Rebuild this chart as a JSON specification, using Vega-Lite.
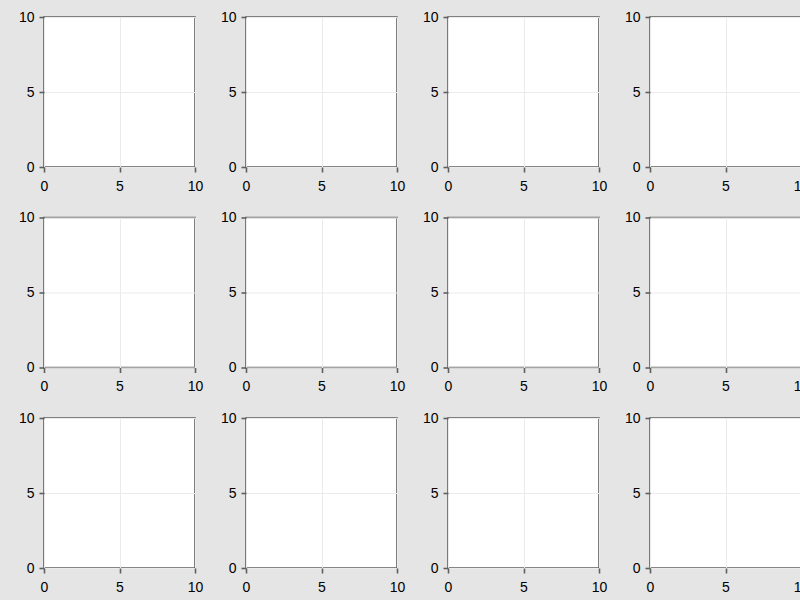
{
  "$schema": "https://vega.github.io/schema/vega-lite/v6.json",
  "background": "#e5e5e5",
  "padding": {"left": 17, "top": 9, "right": 0, "bottom": 20},
  "data": {"values": [{"x": 0, "y": 0}]},
  "columns": 4,
  "spacing": {"row": 50.5, "column": 51},
  "bounds": "flush",
  "concat": [
    {"width": 151, "height": 150, "mark": {"type": "point", "opacity": 0}, "encoding": {"x": {"field": "x", "type": "quantitative", "title": null, "scale": {"domain": [0, 10], "nice": false}, "axis": {"values": [0, 5, 10]}}, "y": {"field": "y", "type": "quantitative", "title": null, "scale": {"domain": [0, 10], "nice": false}, "axis": {"values": [0, 5, 10]}}}},
    {"width": 151, "height": 150, "mark": {"type": "point", "opacity": 0}, "encoding": {"x": {"field": "x", "type": "quantitative", "title": null, "scale": {"domain": [0, 10], "nice": false}, "axis": {"values": [0, 5, 10]}}, "y": {"field": "y", "type": "quantitative", "title": null, "scale": {"domain": [0, 10], "nice": false}, "axis": {"values": [0, 5, 10]}}}},
    {"width": 151, "height": 150, "mark": {"type": "point", "opacity": 0}, "encoding": {"x": {"field": "x", "type": "quantitative", "title": null, "scale": {"domain": [0, 10], "nice": false}, "axis": {"values": [0, 5, 10]}}, "y": {"field": "y", "type": "quantitative", "title": null, "scale": {"domain": [0, 10], "nice": false}, "axis": {"values": [0, 5, 10]}}}},
    {"width": 151, "height": 150, "mark": {"type": "point", "opacity": 0}, "encoding": {"x": {"field": "x", "type": "quantitative", "title": null, "scale": {"domain": [0, 10], "nice": false}, "axis": {"values": [0, 5, 10]}}, "y": {"field": "y", "type": "quantitative", "title": null, "scale": {"domain": [0, 10], "nice": false}, "axis": {"values": [0, 5, 10]}}}},
    {"width": 151, "height": 150, "mark": {"type": "point", "opacity": 0}, "encoding": {"x": {"field": "x", "type": "quantitative", "title": null, "scale": {"domain": [0, 10], "nice": false}, "axis": {"values": [0, 5, 10]}}, "y": {"field": "y", "type": "quantitative", "title": null, "scale": {"domain": [0, 10], "nice": false}, "axis": {"values": [0, 5, 10]}}}},
    {"width": 151, "height": 150, "mark": {"type": "point", "opacity": 0}, "encoding": {"x": {"field": "x", "type": "quantitative", "title": null, "scale": {"domain": [0, 10], "nice": false}, "axis": {"values": [0, 5, 10]}}, "y": {"field": "y", "type": "quantitative", "title": null, "scale": {"domain": [0, 10], "nice": false}, "axis": {"values": [0, 5, 10]}}}},
    {"width": 151, "height": 150, "mark": {"type": "point", "opacity": 0}, "encoding": {"x": {"field": "x", "type": "quantitative", "title": null, "scale": {"domain": [0, 10], "nice": false}, "axis": {"values": [0, 5, 10]}}, "y": {"field": "y", "type": "quantitative", "title": null, "scale": {"domain": [0, 10], "nice": false}, "axis": {"values": [0, 5, 10]}}}},
    {"width": 151, "height": 150, "mark": {"type": "point", "opacity": 0}, "encoding": {"x": {"field": "x", "type": "quantitative", "title": null, "scale": {"domain": [0, 10], "nice": false}, "axis": {"values": [0, 5, 10]}}, "y": {"field": "y", "type": "quantitative", "title": null, "scale": {"domain": [0, 10], "nice": false}, "axis": {"values": [0, 5, 10]}}}},
    {"width": 151, "height": 150, "mark": {"type": "point", "opacity": 0}, "encoding": {"x": {"field": "x", "type": "quantitative", "title": null, "scale": {"domain": [0, 10], "nice": false}, "axis": {"values": [0, 5, 10]}}, "y": {"field": "y", "type": "quantitative", "title": null, "scale": {"domain": [0, 10], "nice": false}, "axis": {"values": [0, 5, 10]}}}},
    {"width": 151, "height": 150, "mark": {"type": "point", "opacity": 0}, "encoding": {"x": {"field": "x", "type": "quantitative", "title": null, "scale": {"domain": [0, 10], "nice": false}, "axis": {"values": [0, 5, 10]}}, "y": {"field": "y", "type": "quantitative", "title": null, "scale": {"domain": [0, 10], "nice": false}, "axis": {"values": [0, 5, 10]}}}},
    {"width": 151, "height": 150, "mark": {"type": "point", "opacity": 0}, "encoding": {"x": {"field": "x", "type": "quantitative", "title": null, "scale": {"domain": [0, 10], "nice": false}, "axis": {"values": [0, 5, 10]}}, "y": {"field": "y", "type": "quantitative", "title": null, "scale": {"domain": [0, 10], "nice": false}, "axis": {"values": [0, 5, 10]}}}},
    {"width": 151, "height": 150, "mark": {"type": "point", "opacity": 0}, "encoding": {"x": {"field": "x", "type": "quantitative", "title": null, "scale": {"domain": [0, 10], "nice": false}, "axis": {"values": [0, 5, 10]}}, "y": {"field": "y", "type": "quantitative", "title": null, "scale": {"domain": [0, 10], "nice": false}, "axis": {"values": [0, 5, 10]}}}}
  ],
  "resolve": {"scale": {"x": "independent", "y": "independent"}, "axis": {"x": "independent", "y": "independent"}},
  "config": {
    "font": "Liberation Sans",
    "view": {"fill": "white", "stroke": "#5f5f5f", "strokeWidth": 1.6},
    "axis": {
      "domain": false,
      "grid": true,
      "gridColor": "#ebebeb",
      "gridWidth": 1,
      "ticks": true,
      "tickSize": 5,
      "tickWidth": 1.6,
      "tickColor": "#5f5f5f",
      "labelPadding": 5,
      "labelFont": "Liberation Sans",
      "labelFontSize": 14,
      "labelColor": "#000000",
      "labelFlush": false,
      "labelOverlap": false
    },
    "axisX": {"labelPadding": 7}
  }
}
